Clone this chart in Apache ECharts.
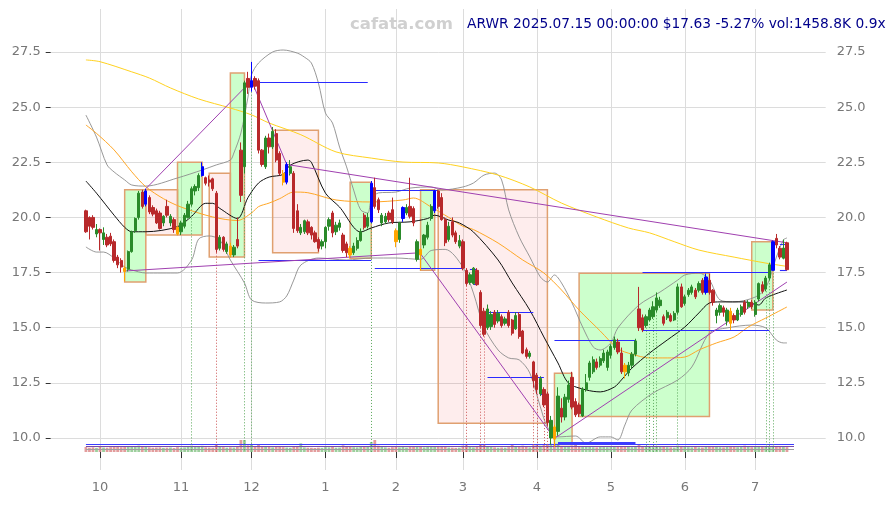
<!DOCTYPE html>
<html>
<head>
<meta charset="utf-8">
<script src="https://cdn.jsdelivr.net/npm/echarts@6.0.0/dist/echarts.min.js"></script>
<style>html,body{margin:0;padding:0;background:#fff;}#chart{width:896px;height:505px;}</style>
</head>
<body>
<div id="chart"></div>
<script>
// ---------- categories (trading days) ----------
const HOLIDAYS = ['2024-11-28','2024-12-25','2025-01-01','2025-01-09','2025-01-20','2025-02-17','2025-04-18','2025-05-26','2025-06-19','2025-07-04'];
const TRADING_DAYS = 200;
const PAD_LEFT = 10, PAD_RIGHT = 11;
const yTicks = [10, 12.5, 15, 17.5, 20, 22.5, 25, 27.5];

// ---------- price data: [open, high, low, close] per trading day ----------
const ohlc = [
[20.3,20.35,19.3,19.35],[20.0,20.05,19.0,19.6],[20.0,20.1,19.45,19.55],[19.25,19.7,19.1,19.45],[19.45,19.5,18.5,19.3],
[19.0,19.55,18.75,19.3],[19.1,19.25,18.65,18.75],[19.15,19.3,18.7,18.8],[18.9,19.0,17.95,18.05],[18.2,18.3,17.7,17.85],
[18.05,18.15,17.5,17.75],[17.7,17.8,17.1,17.55],[17.65,18.5,17.55,18.45],[18.45,19.4,18.4,19.35],[19.4,20.0,19.3,19.95],
[20.0,21.2,19.9,21.1],[21.15,21.25,20.4,20.5],[20.6,21.3,20.5,21.2],[20.9,21.0,20.15,20.25],[20.45,20.55,20.05,20.15],
[20.3,20.4,19.7,19.75],[20.2,20.3,19.45,19.5],[19.75,20.1,19.6,20.05],[20.5,20.8,20.0,20.1],[19.75,20.15,19.6,20.05],
[19.9,20.0,19.3,19.45],[19.55,19.6,19.2,19.25],[19.35,19.85,19.2,19.75],[19.6,20.2,19.5,20.1],[20.0,20.75,19.95,20.6],
[20.6,21.4,20.5,21.3],[21.2,21.5,21.0,21.4],[21.35,22.0,21.2,21.9],[21.9,22.5,21.85,22.3],[21.8,21.85,21.45,21.55],
[21.7,21.9,21.4,21.6],[21.75,21.8,21.2,21.3],[21.1,21.2,18.4,18.55],[18.6,19.2,18.5,19.1],[19.1,19.15,18.45,18.55],
[18.45,18.9,18.35,18.8],[18.7,18.85,18.2,18.3],[18.3,18.75,18.2,18.65],[19.0,20.0,18.6,18.7],[23.05,23.4,20.7,21.0],
[22.3,26.2,22.0,26.1],[26.3,26.6,25.6,25.9],[25.9,27.05,25.7,26.2],[26.3,26.4,25.8,25.95],[26.2,26.3,22.9,23.05],
[23.05,23.1,22.3,22.4],[22.3,23.7,22.2,23.6],[23.6,23.8,22.9,23.2],[23.2,24.1,23.1,23.9],[23.8,24.0,22.5,22.6],
[22.9,23.0,21.9,22.0],[22.0,22.15,21.45,21.6],[21.6,22.5,21.5,22.4],[22.0,22.6,21.9,22.3],[22.0,22.1,19.3,19.5],
[20.3,20.6,19.3,19.4],[19.3,19.7,19.2,19.55],[19.35,19.9,19.25,19.85],[19.8,19.9,19.2,19.3],[19.55,19.6,19.0,19.2],
[19.3,19.4,18.85,18.9],[19.0,19.1,18.45,18.6],[18.7,19.0,18.55,18.9],[18.9,19.6,18.6,19.55],[19.6,20.0,19.4,19.9],
[20.2,20.3,19.1,19.3],[19.35,19.8,19.2,19.65],[19.55,19.9,19.4,19.75],[19.2,19.3,18.4,18.5],[18.8,18.9,18.2,18.4],
[18.6,18.7,18.15,18.3],[18.4,18.85,18.3,18.7],[18.6,19.1,18.5,18.95],[18.95,19.5,18.9,19.35],[20.1,20.2,19.45,19.55],
[19.6,20.2,19.5,20.0],[19.8,21.65,19.75,21.55],[21.35,21.8,20.4,20.5],[20.8,20.9,20.2,20.35],[19.75,20.2,19.6,20.1],
[19.8,20.2,19.7,20.05],[20.2,20.3,19.8,19.9],[20.35,20.9,19.7,19.8],[19.4,19.5,18.65,18.9],[19.0,19.8,18.85,19.75],
[19.95,20.5,19.8,20.45],[20.2,20.6,20.1,20.45],[20.5,21.8,19.95,20.05],[20.4,20.5,19.6,19.75],[18.1,19.0,18.0,18.9],
[18.55,18.6,17.6,18.3],[18.75,19.25,18.6,19.2],[19.1,19.8,19.0,19.65],[19.95,20.6,19.85,20.5],[20.3,21.25,20.2,21.2],
[21.2,21.25,20.4,20.5],[20.9,21.1,19.85,19.9],[19.9,20.0,18.7,18.85],[19.0,19.8,18.9,19.6],[19.8,20.0,19.1,19.2],
[19.3,19.4,18.8,18.9],[18.7,19.2,18.6,18.95],[18.9,19.0,17.6,17.7],[17.6,17.7,16.9,17.0],[17.05,17.5,16.95,17.4],
[17.0,17.75,16.95,17.7],[17.6,17.7,16.9,16.95],[16.6,16.7,15.0,15.1],[15.75,15.9,14.6,14.7],[15.0,16.05,14.9,15.85],
[15.05,15.75,14.9,15.6],[15.7,15.8,15.0,15.15],[15.3,15.8,15.2,15.65],[15.5,15.6,15.0,15.1],[15.2,15.5,15.1,15.4],
[15.7,15.8,15.0,15.1],[15.35,15.4,14.65,14.75],[14.95,15.7,14.9,15.55],[15.6,15.7,14.5,14.6],[14.85,14.9,13.8,13.85],
[14.0,14.1,13.6,13.7],[13.7,13.95,13.6,13.85],[13.45,13.5,12.3,12.6],[12.85,12.95,12.0,12.2],[12.0,12.8,11.9,12.7],
[12.2,12.3,11.4,11.5],[12.0,12.1,10.55,10.7],[10.0,11.0,9.7,10.8],[10.5,10.6,9.6,9.95],[10.3,12.3,10.1,11.9],
[11.35,11.8,10.7,10.95],[10.95,12.0,10.8,11.85],[11.75,12.6,11.6,12.4],[12.75,13.0,11.3,11.4],[11.65,11.8,10.95,11.05],
[11.5,11.6,10.95,11.1],[11.0,12.3,10.95,12.2],[12.2,12.9,12.1,12.5],[12.75,13.5,12.6,13.4],[13.0,13.7,12.9,13.55],
[13.45,13.6,13.1,13.2],[13.3,13.7,13.2,13.6],[13.5,14.0,13.4,13.85],[13.2,14.0,13.05,13.9],[13.75,14.25,13.6,14.15],
[14.1,14.6,14.0,14.45],[14.35,14.5,13.8,13.9],[13.85,14.1,12.9,13.0],[13.3,13.4,12.7,13.0],[12.95,13.45,12.8,13.3],
[13.3,13.9,13.15,13.8],[13.8,14.5,13.7,14.4],[15.85,16.85,14.85,15.0],[15.45,15.6,14.8,14.9],[15.1,15.6,15.0,15.5],
[15.35,15.9,15.3,15.8],[15.5,16.2,15.4,15.95],[15.8,16.6,15.7,16.35],[16.0,16.4,15.9,16.25],[15.5,15.6,15.1,15.2],
[15.45,15.8,15.35,15.7],[15.55,15.65,15.25,15.3],[15.35,15.75,15.3,15.65],[15.7,17.0,15.6,16.85],[16.85,17.0,15.9,15.95],
[16.1,16.5,16.0,16.4],[16.5,16.8,16.4,16.7],[16.6,16.95,16.5,16.85],[16.7,16.8,16.3,16.4],[16.7,17.1,16.6,17.0],
[17.15,17.25,16.5,16.6],[16.6,17.45,16.5,17.3],[17.15,17.45,16.5,16.6],[16.7,16.75,16.0,16.15],[15.55,15.9,15.2,15.8],
[15.7,16.1,15.55,16.0],[15.9,16.0,15.5,15.7],[15.3,15.9,15.1,15.8],[15.75,15.9,14.9,15.2],[15.55,15.65,15.2,15.35],
[15.35,15.9,15.3,15.8],[15.6,16.05,15.5,15.95],[16.15,16.25,15.6,15.7],[15.95,16.25,15.85,16.15],[16.15,16.25,15.85,15.95],
[15.6,16.25,15.5,16.15],[16.3,17.05,16.2,17.0],[16.95,17.1,16.55,16.65],[16.75,17.35,16.65,17.25],[17.25,17.95,17.15,17.85],
[17.6,18.95,17.6,18.9],[19.05,19.25,18.6,18.75],[18.6,18.7,18.1,18.2],[18.15,19.0,18.1,18.61],[18.85,18.9,17.6,17.63]
];

// volume in thousands of shares
const volumeK = [
1500,1300,1400,1250,1600,1350,1300,1450,1700,1500, 1450,1650,1800,1700,1600,1900,1500,1750,1400,1300,
1350,1400,1250,1300,1350,1200,1450,1300,1400,1550, 1900,1500,1600,1850,1400,1350,1300,2100,1600,1450,
1300,1400,1350,1700,3600,3600,2000,2300,1800,2200, 1700,1600,1500,1400,1650,1500,1450,1350,1300,1800,
1550,2600,1400,1300,1250,1200,1300,1250,1450,1400, 1500,1300,1350,2000,1700,1600,1450,1400,1500,1550,
1500,3000,3600,1900,1500,1400,1300,1450,1600,1400, 1550,1350,1700,1500,1650,1600,1400,1500,1550,1700,
1750,1600,1500,1350,1300,1250,1300,1900,2000,1500, 1400,1600,2300,2100,1700,1500,1400,1300,1350,1300,
1450,2400,1500,1700,1900,1600,1400,2000,2100,1900, 2100,2300,2500,2400,2200,1800,1700,1600,1900,2300,
1600,1700,1500,1600,1450,1400,1500,1550,1450,1500, 1600,1550,1700,1600,1500,1450,1600,2400,1800,1650,
1600,1700,1550,1500,1600,1450,1400,1350,1900,1700, 1500,1450,1400,1500,1400,1350,1550,1600,1700,1500,
1450,1400,1800,1700,1500,1450,1600,1900,1500,1450, 1500,1650,1500,1600,1700,1850,1600,1500,1550,1459
];

const blueMarkers = [17,33,47,57,81,90,99,176,195];
const orangeMarkers = [11,26,41,56,75,88,95,133,153,183];

// indicator lines: [day index, value]
const ma20 = [[0,21.65],[3,21.1],[8,20.1],[11,19.55],[13,19.35],[17,19.35],[26,19.58],[30,20.05],[34,20.64],[36,20.64],[38,20.41],[43,19.95],[46,20.9],[49,21.56],[52,21.83],[56,21.95],[58,22.37],[63,22.6],[64,22.5],[68,21.1],[72,20.47],[78,19.34],[81,19.52],[86,19.75],[92,19.8],[97,19.95],[99,20.1],[103,19.88],[106,19.75],[110,19.34],[117,18.07],[121,17.03],[126,15.8],[130,14.58],[134,13.4],[137,12.49],[142,12.18],[146,12.09],[150,12.31],[152,12.63],[155,13.17],[160,13.85],[165,14.44],[170,15.03],[174,15.67],[177,16.12],[180,16.17],[187,16.17],[191,16.03],[193,16.35],[199,16.71]];
const ma50 = [[0,24.19],[3,23.81],[8,23.06],[13,22.07],[17,21.39],[22,20.85],[27,20.47],[36,20.02],[43,19.86],[47,20.2],[49,20.49],[52,20.65],[55,20.85],[59,21.15],[63,21.12],[71,20.79],[81,20.7],[90,20.79],[93,20.88],[98,20.47],[103,20.0],[107,19.6],[110,19.45],[117,18.84],[124,18.07],[130,17.48],[135,16.71],[140,15.8],[146,14.85],[151,14.05],[155,13.8],[160,13.63],[165,13.63],[170,13.67],[174,13.99],[179,14.31],[184,14.58],[188,15.03],[193,15.44],[199,15.94]];
const ma200 = [[0,27.14],[4,27.06],[13,26.6],[18,26.32],[24,25.87],[32,25.37],[41,24.96],[47,24.65],[52,24.28],[61,23.75],[71,22.97],[81,22.69],[90,22.51],[100,22.47],[107,22.29],[117,21.92],[126,21.38],[135,20.65],[145,20.02],[154,19.52],[160,19.3],[167,18.9],[174,18.52],[184,18.2],[193,17.93],[199,17.78]];
const bbUpper = [[0,24.64],[3,23.64],[6,22.38],[8,22.06],[11,21.7],[13,21.47],[17,21.42],[26,21.79],[33,22.15],[37,22.38],[41,22.6],[42,22.92],[44,23.83],[46,25.46],[47,26.46],[49,27.0],[53,27.5],[56,27.59],[60,27.45],[62,27.27],[64,27.0],[66,26.09],[68,24.73],[70,24.28],[72,23.19],[74,22.29],[76,21.24],[78,20.34],[80,20.2],[81,20.79],[83,21.11],[88,21.15],[92,21.33],[98,21.38],[101,21.24],[107,21.38],[110,21.56],[113,21.92],[116,22.01],[118,21.7],[120,20.34],[123,19.11],[126,18.21],[129,17.3],[131,17.07],[133,17.39],[135,17.03],[138,16.12],[141,15.03],[144,14.13],[146,13.99],[149,14.31],[151,14.99],[157,16.03],[163,16.62],[168,17.16],[170,17.39],[174,17.48],[177,17.16],[180,16.26],[184,16.17],[190,16.39],[193,16.8],[196,18.2],[198,18.98],[199,19.07]];
const bbLower = [[0,18.66],[3,18.43],[5,18.43],[8,18.16],[11,17.75],[13,17.62],[17,17.48],[26,17.48],[30,18.07],[32,19.02],[35,19.16],[38,18.98],[41,18.07],[45,17.03],[47,16.26],[51,16.12],[55,16.17],[57,16.44],[59,17.16],[61,17.84],[66,18.16],[74,18.07],[81,18.16],[88,18.16],[95,18.1],[98,18.5],[102,18.55],[107,17.75],[110,16.57],[113,15.03],[117,13.99],[120,13.63],[123,13.54],[126,12.95],[129,11.41],[131,10.5],[134,10.05],[139,10.09],[142,9.77],[146,10.05],[149,10.05],[151,9.91],[153,10.59],[155,11.27],[161,12.04],[168,12.63],[172,13.22],[177,14.76],[182,14.99],[189,15.12],[193,14.99],[196,14.44],[198,14.31],[199,14.31]];

// boxes: [start day, end day, low, high, kind]
const boxes = [[11,17,17.07,21.25,'g'],[17,26,19.2,21.25,'p'],[26,33,19.2,22.5,'g'],[35,41,18.2,22.0,'p'],[41,45,18.2,26.55,'g'],[53,66,18.4,23.95,'p'],[75,81,18.15,21.6,'g'],[95,99,17.6,21.25,'g'],[100,131,10.67,21.25,'p'],[133,138,9.7,12.93,'g'],[140,177,10.97,17.47,'g'],[189,195,15.8,18.9,'g']];
// horizontal blue levels: [start day, end day, value]
const blueSegs = [[47,80,26.14],[49,81,18.05],[82,100,21.25],[82,107,17.7],[109,111,17.65],[110,111,16.95],[114,127,15.72],[114,130,12.75],[129,130,12.0],[133,156,14.44],[158,194,17.5],[158,194,14.9],[197,199,18.8],[197,199,17.6]];
// purple trend lines: [day1, value1, day2, value2]
const purpleSegs = [[17,21.3,47,26.2],[47,26.2,57,22.4],[57,22.4,199,18.85],[11,17.57,95,18.4],[95,18.35,133,9.98],[133,9.98,199,17.07]];
const greenSignals = [30,45,47,81,159,160,161,162,168,193,194,195];
const redSignals = [37,108,112,113,127,128,130,131];
// flat lines in the volume strip: [value K, start day, end day, colour, width]
const volLines = [[2400,0,201,'#3b3bff',1.2],[1650,0,201,'#7a4aa8',1],[900,0,201,'#a0a0a0',1],[2700,134,156,'#3b3bff',2]];

// ---------- build ----------
function tradingDates(){
  const out = []; const hol = new Set(HOLIDAYS);
  let t = Date.UTC(2024, 8, 25);
  while (out.length < TRADING_DAYS) {
    const d = new Date(t); const w = d.getUTCDay(); const s = d.toISOString().slice(0, 10);
    if (w !== 0 && w !== 6 && !hol.has(s)) out.push(s);
    t += 86400000;
  }
  return out;
}
const dates = tradingDates();
const cats = [];
for (let i = 0; i < PAD_LEFT; i++) cats.push('padL' + i);
dates.forEach(d => cats.push(d));
for (let i = 0; i < PAD_RIGHT; i++) cats.push('padR' + i);
const monthIdx = new Set();
for (let i = 1; i < dates.length; i++) if (dates[i].slice(5, 7) !== dates[i - 1].slice(5, 7)) monthIdx.add(PAD_LEFT + i);
const X = d => cats[Math.round(d) + PAD_LEFT];

const RED = '#b8292b', GREEN = '#2a8a2a';
const candleData = ohlc.map((r, d) => {
  const item = { value: [d + PAD_LEFT, r[0], r[3], r[2], r[1]] };
  let c = null;
  if (blueMarkers.includes(d)) c = '#0000ff';
  if (orangeMarkers.includes(d)) c = '#ffa500';
  if (c) item.itemStyle = { color: c, color0: c, borderColor: c, borderColor0: c };
  return item;
});
const volData = volumeK.map((v, d) => ({
  value: [d + PAD_LEFT, v],
  itemStyle: { color: ohlc[d][3] >= ohlc[d][0] ? 'rgba(60,160,60,0.5)' : 'rgba(200,60,60,0.5)' }
}));

const lineS = (pts, color, width) => ({
  type: 'line', data: pts.map(p => [X(p[0]), p[1]]), smooth: 0.3, showSymbol: false, symbol: 'none',
  lineStyle: { color: color, width: width }, z: 3, silent: true, animation: false
});

const YMIN = 8.549, YMAX = 29.449;
const font = 'DejaVu Sans';

const option = {
  animation: false,
  backgroundColor: '#ffffff',
  textStyle: { fontFamily: font },
  grid: { left: 50.7, right: 70.3, top: 9, bottom: 35 },
  xAxis: {
    type: 'category', data: cats, boundaryGap: false,
    axisLine: { show: false },
    axisTick: { show: true, interval: (i) => monthIdx.has(i), length: 6, lineStyle: { color: '#333' } },
    axisLabel: { interval: (i) => monthIdx.has(i), formatter: v => /^\d{4}-/.test(v) ? String(parseInt(v.slice(5, 7), 10)) : '', color: '#777', fontSize: 13, margin: 11, fontFamily: font },
    splitLine: { show: true, interval: (i) => monthIdx.has(i), lineStyle: { color: '#dcdcdc', width: 1 } }
  },
  yAxis: [
    { type: 'value', min: YMIN, max: YMAX, position: 'left', axisLine: { show: false },
      axisTick: { show: true, length: 5, lineStyle: { color: '#333' }, customValues: yTicks },
      axisLabel: { customValues: yTicks, formatter: v => v.toFixed(1), color: '#777', fontSize: 13, margin: 10, fontFamily: font },
      splitLine: { show: true, lineStyle: { color: '#dcdcdc', width: 1 } } },
    { type: 'value', min: YMIN, max: YMAX, position: 'right', axisLine: { show: false },
      axisTick: { show: false, customValues: yTicks },
      axisLabel: { customValues: yTicks, formatter: v => v.toFixed(1), color: '#777', fontSize: 13, margin: 11, fontFamily: font },
      splitLine: { show: false } },
    { type: 'value', min: -5400, max: 132900, show: false }
  ],
  graphic: [
    { type: 'text', left: 350, top: 16, z: 100, style: { text: 'cafata.com', fill: '#d0d0d0', font: 'bold 16.5px "DejaVu Sans"' } },
    { type: 'text', left: 467, top: 17, z: 100, style: { text: 'ARWR 2025.07.15 00:00:00 $17.63 -5.27% vol:1458.8K 0.9x', fill: '#00008b', font: '13.8px "DejaVu Sans"' } }
  ],
  series: [
    // boxes
    { type: 'line', data: [], z: 1, silent: true,
      markArea: { silent: true, data: boxes.map(b => [
        { coord: [X(b[0]), b[3]], itemStyle: { color: b[4] === 'g' ? 'rgba(0,255,0,0.2)' : 'rgba(240,0,0,0.07)', borderColor: '#e0a070', borderWidth: 1.5 } },
        { coord: [X(b[1]), b[2]] }
      ]) } },
    // volume
    { type: 'bar', yAxisIndex: 2, data: volData, barWidth: 2.8, z: 2, silent: true,
      markLine: { silent: true, symbol: ['none', 'none'], label: { show: false },
        data: volLines.map(l => [{ coord: [X(l[1]), l[0]], lineStyle: { color: l[3], width: l[4], type: 'solid' } }, { coord: [X(l[2]), l[0]] }]) } },
    // signal dotted lines
    { type: 'line', data: [], z: 2, silent: true,
      markLine: { silent: true, symbol: ['none', 'none'], label: { show: false },
        data: greenSignals.map(d => [{ coord: [X(d), ohlc[d][2]], lineStyle: { color: '#5aa85a', width: 1, type: [1, 2] } }, { coord: [X(d), 9.36] }])
          .concat(redSignals.map(d => [{ coord: [X(d), ohlc[d][2]], lineStyle: { color: '#cc5555', width: 1, type: [1, 2] } }, { coord: [X(d), 9.36] }])) } },
    lineS(bbUpper, '#8c8c8c', 0.9),
    lineS(bbLower, '#8c8c8c', 0.9),
    lineS(ma200, '#ffd21f', 1),
    lineS(ma50, '#ffa726', 1),
    lineS(ma20, '#111111', 1),
    // blue levels and purple trend lines
    { type: 'line', data: [], z: 4, silent: true,
      markLine: { silent: true, symbol: ['none', 'none'], label: { show: false },
        data: blueSegs.map(s => [{ coord: [X(s[0]), s[2]], lineStyle: { color: '#2a2aff', width: 1.1, type: 'solid' } }, { coord: [X(s[1]), s[2]] }])
          .concat(purpleSegs.map(s => [{ coord: [X(s[0]), s[1]], lineStyle: { color: '#a040b0', width: 1, type: 'solid' } }, { coord: [X(s[2]), s[3]] }])) } },
    // candles
    { type: 'candlestick', z: 5, silent: true, barWidth: 2.8,
      dimensions: ['idx', 'open', 'close', 'lowest', 'highest'],
      encode: { x: 'idx', y: ['open', 'close', 'lowest', 'highest'] },
      itemStyle: { color: GREEN, color0: RED, borderColor: GREEN, borderColor0: RED, borderWidth: 1 },
      data: candleData }
  ]
};

const chart = echarts.init(document.getElementById('chart'), null, { renderer: 'canvas' });
chart.setOption(option);
</script>
</body>
</html>
